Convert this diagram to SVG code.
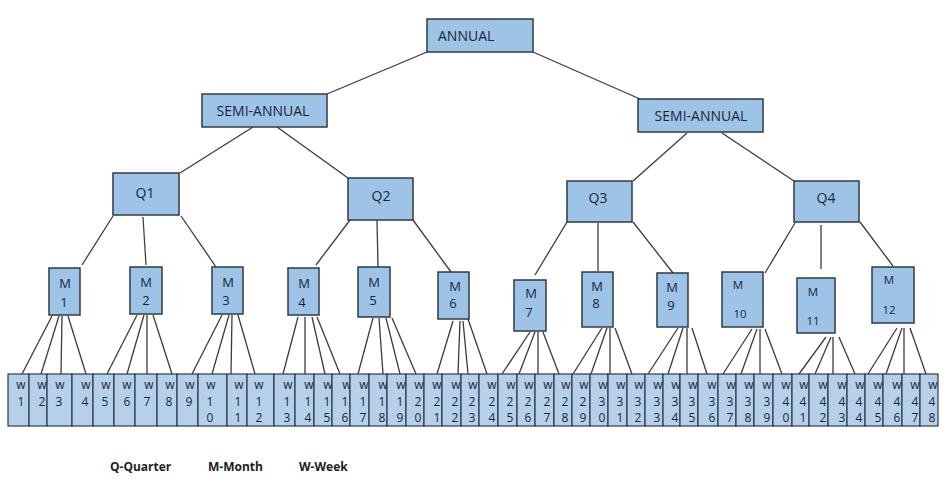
<svg xmlns="http://www.w3.org/2000/svg" width="947" height="489" viewBox="0 0 947 489">
<style>
.box{fill:#9dc3e6;stroke:#2e3a48;stroke-width:1.5}
.cell{fill:#b4d0ea;stroke:#2e3a48;stroke-width:1.2}
.t{font-family:"Open Sans","Liberation Sans",sans-serif;font-size:14px;fill:#1c2538;text-anchor:middle}
.m{font-family:"Open Sans","Liberation Sans",sans-serif;font-size:13px;fill:#1c2538;text-anchor:middle}
.ms{font-family:"Open Sans","Liberation Sans",sans-serif;font-size:11.5px;fill:#1c2538;text-anchor:middle}
.w{font-family:"Open Sans","Liberation Sans",sans-serif;font-size:12px;fill:#1c2538;text-anchor:middle}
.lg{font-family:"Open Sans","Liberation Sans",sans-serif;font-size:12px;font-weight:bold;fill:#222}
.c line{stroke:#3c3c3c;stroke-width:1.3}
</style>
<rect width="947" height="489" fill="#fff"/>
<g class="c" id="connectors">
<line x1="427" y1="52" x2="327" y2="94"/>
<line x1="533" y1="52" x2="640" y2="99"/>
<line x1="253" y1="127" x2="180" y2="173"/>
<line x1="277" y1="127" x2="348" y2="178"/>
<line x1="687" y1="133" x2="633" y2="181"/>
<line x1="722" y1="133" x2="794" y2="181"/>
<line x1="113" y1="216" x2="82" y2="265"/>
<line x1="143" y1="217" x2="146" y2="265"/>
<line x1="181" y1="216" x2="216" y2="267"/>
<line x1="350" y1="220" x2="316" y2="265"/>
<line x1="377" y1="220" x2="378" y2="267"/>
<line x1="413" y1="220" x2="451" y2="272"/>
<line x1="567" y1="222" x2="535" y2="275"/>
<line x1="598" y1="223" x2="598" y2="271"/>
<line x1="633" y1="222" x2="673" y2="273"/>
<line x1="795" y1="223" x2="765" y2="273"/>
<line x1="821" y1="225" x2="821" y2="269"/>
<line x1="860" y1="222" x2="893" y2="266"/>
<line x1="52" y1="316" x2="22" y2="374"/>
<line x1="59" y1="316" x2="41" y2="374"/>
<line x1="62" y1="316" x2="61" y2="374"/>
<line x1="68" y1="316" x2="86" y2="374"/>
<line x1="137" y1="315" x2="107" y2="374"/>
<line x1="144" y1="315" x2="127" y2="374"/>
<line x1="147" y1="315" x2="147" y2="374"/>
<line x1="153" y1="315" x2="172" y2="374"/>
<line x1="222" y1="315" x2="192" y2="374"/>
<line x1="229" y1="315" x2="212" y2="374"/>
<line x1="232" y1="315" x2="231" y2="374"/>
<line x1="238" y1="315" x2="255" y2="374"/>
<line x1="298" y1="317" x2="283" y2="374"/>
<line x1="305" y1="317" x2="305" y2="374"/>
<line x1="312" y1="317" x2="325" y2="374"/>
<line x1="317" y1="317" x2="340" y2="374"/>
<line x1="373" y1="318" x2="358" y2="374"/>
<line x1="379" y1="318" x2="383" y2="374"/>
<line x1="386" y1="318" x2="400" y2="374"/>
<line x1="392" y1="318" x2="416" y2="374"/>
<line x1="453" y1="321" x2="437" y2="374"/>
<line x1="460" y1="321" x2="458" y2="374"/>
<line x1="463" y1="321" x2="468" y2="374"/>
<line x1="468" y1="319" x2="487" y2="374"/>
<line x1="530" y1="332" x2="502" y2="374"/>
<line x1="535" y1="332" x2="519" y2="374"/>
<line x1="538" y1="332" x2="538" y2="374"/>
<line x1="543" y1="332" x2="559" y2="374"/>
<line x1="602" y1="328" x2="573" y2="374"/>
<line x1="607" y1="328" x2="591" y2="374"/>
<line x1="610" y1="328" x2="610" y2="374"/>
<line x1="615" y1="328" x2="632" y2="374"/>
<line x1="678" y1="328" x2="648" y2="374"/>
<line x1="683" y1="328" x2="668" y2="374"/>
<line x1="687" y1="328" x2="687" y2="374"/>
<line x1="692" y1="328" x2="707" y2="374"/>
<line x1="752" y1="329" x2="723" y2="374"/>
<line x1="757" y1="329" x2="741" y2="374"/>
<line x1="760" y1="329" x2="760" y2="374"/>
<line x1="765" y1="329" x2="782" y2="374"/>
<line x1="826" y1="337" x2="799" y2="374"/>
<line x1="831" y1="337" x2="815" y2="374"/>
<line x1="833" y1="337" x2="833" y2="374"/>
<line x1="839" y1="337" x2="855" y2="374"/>
<line x1="897" y1="328" x2="868" y2="374"/>
<line x1="902" y1="328" x2="886" y2="374"/>
<line x1="904" y1="328" x2="904" y2="374"/>
<line x1="910" y1="328" x2="926" y2="374"/>
</g>
<g id="annual"><rect class="box" x="427" y="19" width="106" height="33"/><text class="t" x="438" y="41" style="text-anchor:start">ANNUAL</text></g>
<g id="semi1"><rect class="box" x="202" y="94" width="125" height="33"/><text class="t" x="263" y="116">SEMI-ANNUAL</text></g>
<g id="semi2"><rect class="box" x="638" y="99" width="125" height="33"/><text class="t" x="701" y="121">SEMI-ANNUAL</text></g>
<g id="q1"><rect class="box" x="113" y="173" width="66" height="42"/><text class="t" x="145" y="198">Q1</text></g>
<g id="q2"><rect class="box" x="348" y="178" width="65" height="42"/><text class="t" x="381" y="201">Q2</text></g>
<g id="q3"><rect class="box" x="567" y="181" width="65" height="41"/><text class="t" x="598" y="203">Q3</text></g>
<g id="q4"><rect class="box" x="794" y="181" width="65" height="41"/><text class="t" x="826" y="203">Q4</text></g>
<g id="m1"><rect class="box" x="49" y="268" width="31" height="47"/><text class="m" x="65" y="288">M</text><text class="m" x="64" y="307">1</text></g>
<g id="m2"><rect class="box" x="130" y="267" width="32" height="47"/><text class="m" x="146" y="287">M</text><text class="m" x="146" y="305">2</text></g>
<g id="m3"><rect class="box" x="212" y="267" width="31" height="47"/><text class="m" x="228" y="287">M</text><text class="m" x="226" y="305">3</text></g>
<g id="m4"><rect class="box" x="288" y="268" width="31" height="47"/><text class="m" x="304" y="288">M</text><text class="m" x="302" y="307">4</text></g>
<g id="m5"><rect class="box" x="358" y="267" width="32" height="50"/><text class="m" x="374" y="287">M</text><text class="m" x="373" y="305">5</text></g>
<g id="m6"><rect class="box" x="438" y="272" width="31" height="47"/><text class="m" x="455" y="291">M</text><text class="m" x="453" y="308">6</text></g>
<g id="m7"><rect class="box" x="514" y="280" width="32" height="51"/><text class="m" x="531" y="298">M</text><text class="m" x="529" y="317">7</text></g>
<g id="m8"><rect class="box" x="582" y="272" width="31" height="55"/><text class="m" x="597" y="291">M</text><text class="m" x="596" y="308">8</text></g>
<g id="m9"><rect class="box" x="657" y="273" width="31" height="54"/><text class="m" x="672" y="292">M</text><text class="m" x="671" y="310">9</text></g>
<g id="m10"><rect class="box" x="722" y="272" width="41" height="55"/><text class="ms" x="738" y="289">M</text><text class="ms" x="740" y="318">10</text></g>
<g id="m11"><rect class="box" x="797" y="278" width="38" height="55"/><text class="ms" x="813" y="296">M</text><text class="ms" x="813" y="325">11</text></g>
<g id="m12"><rect class="box" x="872" y="267" width="42" height="56"/><text class="ms" x="889" y="284">M</text><text class="ms" x="889" y="314">12</text></g>
<g id="weeks">
<rect class="cell" x="8" y="374" width="21" height="52"/><text class="w" x="21" y="389">w</text><text class="w" x="21" y="406">1</text>
<rect class="cell" x="29" y="374" width="18" height="52"/><text class="w" x="42" y="389">w</text><text class="w" x="42" y="406">2</text>
<rect class="cell" x="47" y="374" width="25" height="52"/><text class="w" x="60" y="389">w</text><text class="w" x="59" y="406">3</text>
<rect class="cell" x="72" y="374" width="21" height="52"/><text class="w" x="86" y="389">w</text><text class="w" x="85" y="406">4</text>
<rect class="cell" x="93" y="374" width="21" height="52"/><text class="w" x="106" y="389">w</text><text class="w" x="105" y="406">5</text>
<rect class="cell" x="114" y="374" width="21" height="52"/><text class="w" x="127" y="389">w</text><text class="w" x="127" y="406">6</text>
<rect class="cell" x="135" y="374" width="22" height="52"/><text class="w" x="149" y="389">w</text><text class="w" x="147" y="406">7</text>
<rect class="cell" x="157" y="374" width="20" height="52"/><text class="w" x="170" y="389">w</text><text class="w" x="169" y="406">8</text>
<rect class="cell" x="177" y="374" width="21" height="52"/><text class="w" x="190" y="389">w</text><text class="w" x="189" y="406">9</text>
<rect class="cell" x="198" y="374" width="29" height="52"/><text class="w" x="211" y="389">w</text><text class="w" x="210" y="406">1</text><text class="w" x="210" y="422">0</text>
<rect class="cell" x="227" y="374" width="20" height="52"/><text class="w" x="239" y="389">w</text><text class="w" x="238" y="406">1</text><text class="w" x="238" y="422">1</text>
<rect class="cell" x="247" y="374" width="27" height="52"/><text class="w" x="259" y="389">w</text><text class="w" x="259" y="406">1</text><text class="w" x="259" y="422">2</text>
<rect class="cell" x="274" y="374" width="21" height="52"/><text class="w" x="288" y="389">w</text><text class="w" x="287" y="406">1</text><text class="w" x="287" y="422">3</text>
<rect class="cell" x="295" y="374" width="19" height="52"/><text class="w" x="309" y="389">w</text><text class="w" x="308" y="406">1</text><text class="w" x="308" y="422">4</text>
<rect class="cell" x="314" y="374" width="18" height="52"/><text class="w" x="328" y="389">w</text><text class="w" x="327" y="406">1</text><text class="w" x="327" y="422">5</text>
<rect class="cell" x="332" y="374" width="18" height="52"/><text class="w" x="347" y="389">w</text><text class="w" x="345" y="406">1</text><text class="w" x="345" y="422">6</text>
<rect class="cell" x="350" y="374" width="19" height="52"/><text class="w" x="364" y="389">w</text><text class="w" x="363" y="406">1</text><text class="w" x="363" y="422">7</text>
<rect class="cell" x="369" y="374" width="18" height="52"/><text class="w" x="383" y="389">w</text><text class="w" x="382" y="406">1</text><text class="w" x="382" y="422">8</text>
<rect class="cell" x="387" y="374" width="19" height="52"/><text class="w" x="401" y="389">w</text><text class="w" x="400" y="406">1</text><text class="w" x="400" y="422">9</text>
<rect class="cell" x="406" y="374" width="18" height="52"/><text class="w" x="419" y="389">w</text><text class="w" x="418" y="406">2</text><text class="w" x="418" y="422">0</text>
<rect class="cell" x="424" y="374" width="18" height="52"/><text class="w" x="437" y="389">w</text><text class="w" x="437" y="406">2</text><text class="w" x="437" y="422">1</text>
<rect class="cell" x="442" y="374" width="19" height="52"/><text class="w" x="456" y="389">w</text><text class="w" x="455" y="406">2</text><text class="w" x="455" y="422">2</text>
<rect class="cell" x="461" y="374" width="18" height="52"/><text class="w" x="473" y="389">w</text><text class="w" x="472" y="406">2</text><text class="w" x="472" y="422">3</text>
<rect class="cell" x="479" y="374" width="19" height="52"/><text class="w" x="492" y="389">w</text><text class="w" x="492" y="406">2</text><text class="w" x="492" y="422">4</text>
<rect class="cell" x="498" y="374" width="19" height="52"/><text class="w" x="511" y="389">w</text><text class="w" x="510" y="406">2</text><text class="w" x="510" y="422">5</text>
<rect class="cell" x="517" y="374" width="18" height="52"/><text class="w" x="529" y="389">w</text><text class="w" x="528" y="406">2</text><text class="w" x="528" y="422">6</text>
<rect class="cell" x="535" y="374" width="19" height="52"/><text class="w" x="548" y="389">w</text><text class="w" x="547" y="406">2</text><text class="w" x="547" y="422">7</text>
<rect class="cell" x="554" y="374" width="18" height="52"/><text class="w" x="566" y="389">w</text><text class="w" x="565" y="406">2</text><text class="w" x="565" y="422">8</text>
<rect class="cell" x="572" y="374" width="18" height="52"/><text class="w" x="584" y="389">w</text><text class="w" x="583" y="406">2</text><text class="w" x="583" y="422">9</text>
<rect class="cell" x="590" y="374" width="18" height="52"/><text class="w" x="603" y="389">w</text><text class="w" x="602" y="406">3</text><text class="w" x="602" y="422">0</text>
<rect class="cell" x="608" y="374" width="19" height="52"/><text class="w" x="621" y="389">w</text><text class="w" x="620" y="406">3</text><text class="w" x="620" y="422">1</text>
<rect class="cell" x="627" y="374" width="18" height="52"/><text class="w" x="639" y="389">w</text><text class="w" x="638" y="406">3</text><text class="w" x="638" y="422">2</text>
<rect class="cell" x="645" y="374" width="18" height="52"/><text class="w" x="658" y="389">w</text><text class="w" x="657" y="406">3</text><text class="w" x="657" y="422">3</text>
<rect class="cell" x="663" y="374" width="17" height="52"/><text class="w" x="676" y="389">w</text><text class="w" x="675" y="406">3</text><text class="w" x="675" y="422">4</text>
<rect class="cell" x="680" y="374" width="18" height="52"/><text class="w" x="693" y="389">w</text><text class="w" x="692" y="406">3</text><text class="w" x="692" y="422">5</text>
<rect class="cell" x="698" y="374" width="20" height="52"/><text class="w" x="712" y="389">w</text><text class="w" x="712" y="406">3</text><text class="w" x="712" y="422">6</text>
<rect class="cell" x="718" y="374" width="18" height="52"/><text class="w" x="731" y="389">w</text><text class="w" x="730" y="406">3</text><text class="w" x="730" y="422">7</text>
<rect class="cell" x="736" y="374" width="18" height="52"/><text class="w" x="749" y="389">w</text><text class="w" x="748" y="406">3</text><text class="w" x="748" y="422">8</text>
<rect class="cell" x="754" y="374" width="19" height="52"/><text class="w" x="767" y="389">w</text><text class="w" x="767" y="406">3</text><text class="w" x="767" y="422">9</text>
<rect class="cell" x="773" y="374" width="19" height="52"/><text class="w" x="786" y="389">w</text><text class="w" x="786" y="406">4</text><text class="w" x="786" y="422">0</text>
<rect class="cell" x="792" y="374" width="17" height="52"/><text class="w" x="804" y="389">w</text><text class="w" x="803" y="406">4</text><text class="w" x="803" y="422">1</text>
<rect class="cell" x="809" y="374" width="19" height="52"/><text class="w" x="823" y="389">w</text><text class="w" x="823" y="406">4</text><text class="w" x="823" y="422">2</text>
<rect class="cell" x="828" y="374" width="19" height="52"/><text class="w" x="842" y="389">w</text><text class="w" x="842" y="406">4</text><text class="w" x="842" y="422">3</text>
<rect class="cell" x="847" y="374" width="18" height="52"/><text class="w" x="860" y="389">w</text><text class="w" x="859" y="406">4</text><text class="w" x="859" y="422">4</text>
<rect class="cell" x="865" y="374" width="18" height="52"/><text class="w" x="878" y="389">w</text><text class="w" x="878" y="406">4</text><text class="w" x="878" y="422">5</text>
<rect class="cell" x="883" y="374" width="19" height="52"/><text class="w" x="897" y="389">w</text><text class="w" x="897" y="406">4</text><text class="w" x="897" y="422">6</text>
<rect class="cell" x="902" y="374" width="18" height="52"/><text class="w" x="915" y="389">w</text><text class="w" x="915" y="406">4</text><text class="w" x="915" y="422">7</text>
<rect class="cell" x="920" y="374" width="18" height="52"/><text class="w" x="933" y="389">w</text><text class="w" x="932" y="406">4</text><text class="w" x="932" y="422">8</text>
</g>
<g id="legend">
<text class="lg" x="110" y="471">Q-Quarter</text>
<text class="lg" x="208" y="471">M-Month</text>
<text class="lg" x="299" y="471">W-Week</text>
</g>
</svg>
